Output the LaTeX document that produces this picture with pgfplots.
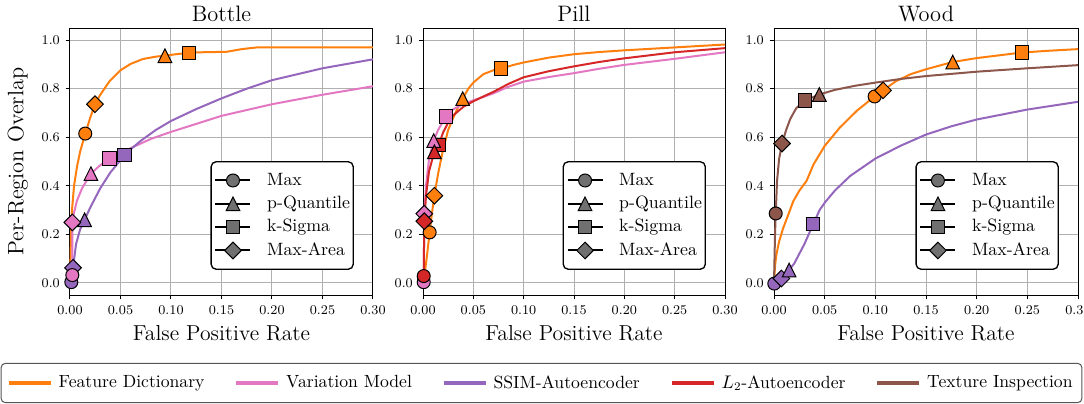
\documentclass[border=0pt]{standalone}
\usepackage{pgfplots}
\pgfplotsset{compat=1.18}
\definecolor{cOrange}{HTML}{FF7F0E}
\definecolor{cPink}{HTML}{E377C2}
\definecolor{cPurple}{HTML}{9467BD}
\definecolor{cRed}{HTML}{D62728}
\definecolor{cBrown}{HTML}{8C564B}
\definecolor{cGrid}{HTML}{B0B0B0}
\definecolor{cLeg}{HTML}{707070}
\definecolor{cEdge}{HTML}{555555}

\pgfdeclareplotmark{mtri}{%
  \pgfpathmoveto{\pgfqpoint{0pt}{\pgfplotmarksize}}%
  \pgfpathlineto{\pgfqpoint{-\pgfplotmarksize}{-\pgfplotmarksize}}%
  \pgfpathlineto{\pgfqpoint{\pgfplotmarksize}{-\pgfplotmarksize}}%
  \pgfpathclose\pgfusepathqfillstroke}
\pgfdeclareplotmark{mdia}{%
  \pgfpathmoveto{\pgfqpoint{0pt}{\pgfplotmarksize}}%
  \pgfpathlineto{\pgfqpoint{\pgfplotmarksize}{0pt}}%
  \pgfpathlineto{\pgfqpoint{0pt}{-\pgfplotmarksize}}%
  \pgfpathlineto{\pgfqpoint{-\pgfplotmarksize}{0pt}}%
  \pgfpathclose\pgfusepathqfillstroke}

\pgfplotsset{
  prc/.style={
    scale only axis, height=160.2pt,
    xmin=0, xmax=0.3, ymin=-0.05, ymax=1.05,
    xtick={0,0.05,0.1,0.15,0.2,0.25,0.3},
    ytick={0,0.2,0.4,0.6,0.8,1.0},
    scaled x ticks=false, scaled y ticks=false,
    xticklabel style={/pgf/number format/.cd, fixed, fixed zerofill, precision=2, /tikz/.cd, yshift=-0.5pt},
    yticklabel style={/pgf/number format/.cd, fixed, fixed zerofill, precision=1},
    tick label style={font=\fontsize{8}{9}\selectfont},
    tick align=outside, tick pos=left,
    major tick length=2.6pt,
    every tick/.style={black, line width=0.6pt},
    grid=major, major grid style={cGrid, line width=0.6pt},
    axis line style={black, line width=0.6pt},
    clip=false,
    every axis title shift=0pt,
    title style={font=\fontsize{13.4}{15}\selectfont, at={(axis description cs:0.5,1.026)}, anchor=base, yshift=0pt},
    xlabel style={font=\fontsize{13}{15}\selectfont, at={(axis description cs:0.5,-0.172)}, anchor=base},
    ylabel style={font=\fontsize{13.4}{15}\selectfont, at={(axis description cs:-0.172,0.5)}, anchor=center},
    legend style={at={(axis description cs:0.937,0.094)}, anchor=south east,
      draw=black, line width=0.8pt, rounded corners=3pt, fill=white,
      font=\fontsize{10.7}{12}\selectfont, inner xsep=2pt, inner ysep=5.5pt, row sep=2.5pt,
      /tikz/every odd column/.append style={column sep=9.4pt},
      nodes={inner sep=0pt, text height=8.5pt, text depth=3pt}},
    legend cell align=left,
    legend image code/.code={\draw[sharp corners, mark repeat=2, mark phase=2, #1] plot coordinates {(0pt,0pt) (10.5pt,0pt) (21pt,0pt)};},
  },
  cv/.style={#1, line width=1.2pt, no markers, forget plot, line join=round},
  mbase/.style={only marks, forget plot, mark options={draw=black, line width=0.6pt, fill=#1, sharp corners, solid}},
  mc/.style={mbase=#1, mark=*, mark size=3.9pt},
  mt/.style={mbase=#1, mark=mtri, mark size=4.1pt},
  ms/.style={mbase=#1, mark=square*, mark size=4pt},
  md/.style={mbase=#1, mark=mdia, mark size=5pt},
  legc/.style={black, line width=1.2pt, mark=*, mark size=3.9pt, mark options={fill=cLeg, draw=black, line width=0.6pt}},
  legt/.style={black, line width=1.2pt, mark=mtri, mark size=4.1pt, mark options={fill=cLeg, draw=black, line width=0.6pt}},
  legs/.style={black, line width=1.2pt, mark=square*, mark size=4pt, mark options={fill=cLeg, draw=black, line width=0.6pt}},
  legd/.style={black, line width=1.2pt, mark=mdia, mark size=5pt, mark options={fill=cLeg, draw=black, line width=0.6pt}},
}

\newcommand{\markerlegend}{%
  \addlegendimage{legc}\addlegendentry{Max}
  \addlegendimage{legt}\addlegendentry{p-Quantile}
  \addlegendimage{legs}\addlegendentry{k-Sigma}
  \addlegendimage{legd}\addlegendentry{Max-Area}
}

\begin{document}
\begin{tikzpicture}
\path[use as bounding box] (0,0) rectangle (650.4pt,241.8pt);

% ---------------- Bottle ----------------
\begin{axis}[prc, width=181.8pt, at={(42pt,64.8pt)}, anchor=south west,
  title={Bottle}, xlabel={False Positive Rate}, ylabel={Per-Region Overlap}]
\addplot[cv=cOrange] coordinates {(0,0) (0.0005,0.1) (0.001,0.2) (0.002,0.3) (0.004,0.4) (0.007,0.48) (0.01,0.54) (0.0151,0.615) (0.02,0.68) (0.0247,0.736) (0.03,0.775) (0.039,0.83) (0.05,0.876) (0.06,0.902) (0.072,0.922) (0.085,0.932) (0.094,0.936) (0.105,0.942) (0.118,0.948) (0.13,0.95) (0.155,0.952) (0.162,0.957) (0.17,0.963) (0.185,0.97) (0.3,0.97)};
\addplot[cv=cPink] coordinates {(0,0) (0.0023,0.032) (0.0023,0.1) (0.0023,0.249) (0.004,0.29) (0.007,0.34) (0.012,0.39) (0.0207,0.45) (0.03,0.485) (0.0391,0.512) (0.05,0.535) (0.06,0.555) (0.08,0.593) (0.1,0.622) (0.125,0.655) (0.15,0.688) (0.175,0.712) (0.2,0.736) (0.25,0.775) (0.3,0.81)};
\addplot[cv=cPurple] coordinates {(0,0) (0.0013,0.003) (0.003,0.062) (0.006,0.16) (0.01,0.22) (0.0145,0.26) (0.02,0.31) (0.03,0.39) (0.04,0.455) (0.054,0.526) (0.06,0.55) (0.07,0.585) (0.085,0.63) (0.1,0.667) (0.125,0.716) (0.15,0.76) (0.175,0.8) (0.2,0.835) (0.25,0.884) (0.3,0.921)};
\addplot[mc=cOrange] coordinates {(0.0151,0.615)};
\addplot[mt=cOrange] coordinates {(0.094,0.936)};
\addplot[ms=cOrange] coordinates {(0.118,0.948)};
\addplot[md=cOrange] coordinates {(0.0247,0.736)};
\addplot[mc=cPurple] coordinates {(0.0013,0.003)};
\addplot[mt=cPurple] coordinates {(0.0145,0.26)};
\addplot[ms=cPurple] coordinates {(0.054,0.526)};
\addplot[md=cPurple] coordinates {(0.003,0.062)};
\addplot[mc=cPink] coordinates {(0.0023,0.032)};
\addplot[mt=cPink] coordinates {(0.0207,0.45)};
\addplot[ms=cPink] coordinates {(0.0391,0.512)};
\addplot[md=cPink] coordinates {(0.0023,0.249)};
\markerlegend
\end{axis}

% ---------------- Pill ----------------
\begin{axis}[prc, width=181.2pt, at={(253.8pt,64.8pt)}, anchor=south west,
  title={Pill}, xlabel={False Positive Rate}]
\addplot[cv=cOrange] coordinates {(0,0) (0.001,0.02) (0.003,0.08) (0.005,0.15) (0.0066,0.208) (0.009,0.29) (0.0113,0.359) (0.015,0.45) (0.02,0.55) (0.025,0.63) (0.03,0.68) (0.035,0.725) (0.0394,0.759) (0.045,0.8) (0.05,0.825) (0.06,0.86) (0.07,0.876) (0.0775,0.883) (0.09,0.898) (0.1,0.908) (0.125,0.928) (0.15,0.942) (0.175,0.951) (0.2,0.958) (0.25,0.97) (0.3,0.982)};
\addplot[cv=cPink] coordinates {(0.0007,0.003) (0.001,0.15) (0.0013,0.285) (0.003,0.4) (0.006,0.51) (0.0106,0.586) (0.015,0.63) (0.0228,0.686) (0.03,0.715) (0.04,0.737) (0.05,0.752) (0.06,0.766) (0.07,0.781) (0.085,0.808) (0.1,0.829) (0.125,0.848) (0.15,0.864) (0.175,0.882) (0.2,0.898) (0.25,0.923) (0.3,0.95)};
\addplot[cv=cRed] coordinates {(0.0007,0.028) (0.001,0.15) (0.0013,0.254) (0.003,0.36) (0.006,0.46) (0.0113,0.54) (0.0156,0.568) (0.02,0.62) (0.025,0.66) (0.03,0.69) (0.04,0.725) (0.05,0.748) (0.06,0.768) (0.07,0.787) (0.085,0.82) (0.1,0.847) (0.125,0.872) (0.15,0.892) (0.175,0.91) (0.2,0.925) (0.25,0.95) (0.3,0.967)};
\addplot[mc=cOrange] coordinates {(0.0066,0.208)};
\addplot[mt=cOrange] coordinates {(0.0394,0.759)};
\addplot[ms=cOrange] coordinates {(0.0775,0.883)};
\addplot[md=cOrange] coordinates {(0.0113,0.359)};
\addplot[mc=cPink] coordinates {(0.0007,0.003)};
\addplot[md=cPink] coordinates {(0.0013,0.285)};
\addplot[mc=cRed] coordinates {(0.0007,0.028)};
\addplot[md=cRed] coordinates {(0.0013,0.254)};
\addplot[ms=cRed] coordinates {(0.0156,0.568)};
\addplot[mt=cPink] coordinates {(0.0106,0.586)};
\addplot[mt=cRed] coordinates {(0.0113,0.54)};
\addplot[ms=cPink] coordinates {(0.0228,0.686)};
\markerlegend
\end{axis}

% ---------------- Wood ----------------
\begin{axis}[prc, width=182.4pt, at={(464.4pt,64.8pt)}, anchor=south west,
  title={Wood}, xlabel={False Positive Rate}]
\addplot[cv=cOrange] coordinates {(0,0) (0.001,0.07) (0.0023,0.115) (0.005,0.17) (0.009,0.225) (0.014,0.28) (0.019,0.336) (0.025,0.38) (0.032,0.419) (0.039,0.488) (0.05,0.564) (0.065,0.64) (0.082,0.71) (0.0993,0.768) (0.1076,0.793) (0.12,0.83) (0.135,0.86) (0.15,0.88) (0.1764,0.91) (0.2,0.926) (0.2446,0.949) (0.27,0.956) (0.3,0.963)};
\addplot[cv=cPurple] coordinates {(0,0) (0.0073,0.018) (0.0149,0.053) (0.02,0.08) (0.025,0.12) (0.03,0.16) (0.0387,0.242) (0.045,0.3) (0.05,0.33) (0.06,0.38) (0.075,0.44) (0.1,0.512) (0.125,0.565) (0.15,0.611) (0.175,0.645) (0.2,0.673) (0.25,0.714) (0.3,0.746)};
\addplot[cv=cBrown] coordinates {(0,0) (0.0005,0.1) (0.001,0.2) (0.0017,0.286) (0.003,0.42) (0.005,0.51) (0.0079,0.574) (0.012,0.63) (0.016,0.675) (0.022,0.72) (0.0305,0.751) (0.0447,0.776) (0.06,0.795) (0.08,0.812) (0.1,0.825) (0.125,0.84) (0.15,0.852) (0.2,0.87) (0.25,0.884) (0.3,0.897)};
\addplot[mc=cOrange] coordinates {(0.0993,0.768)};
\addplot[mt=cOrange] coordinates {(0.1764,0.91)};
\addplot[ms=cOrange] coordinates {(0.2446,0.949)};
\addplot[md=cOrange] coordinates {(0.1076,0.793)};
\addplot[mc=cPurple] coordinates {(0.0003,-0.003)};
\addplot[md=cPurple] coordinates {(0.0073,0.018)};
\addplot[mt=cPurple] coordinates {(0.0149,0.053)};
\addplot[ms=cPurple] coordinates {(0.0387,0.242)};
\addplot[mc=cBrown] coordinates {(0.0017,0.286)};
\addplot[mt=cBrown] coordinates {(0.0447,0.776)};
\addplot[ms=cBrown] coordinates {(0.0305,0.751)};
\addplot[md=cBrown] coordinates {(0.0079,0.574)};
\markerlegend
\end{axis}

% ---------------- Bottom legend ----------------
\begin{axis}[hide axis, scale only axis, width=648.6pt, height=22.8pt,
  at={(0.6pt,0.6pt)}, anchor=south west, xmin=0, xmax=1, ymin=0, ymax=1,
  legend columns=5,
  legend style={at={(axis description cs:0.5,0.5)}, anchor=center,
    draw=cEdge, line width=0.6pt, rounded corners=2.4pt, fill=white,
    font=\fontsize{10.6}{12}\selectfont, inner xsep=3.5pt, inner ysep=5.2pt,
    /tikz/every odd column/.append style={column sep=1.8pt},
    /tikz/every even column/.append style={column sep=16pt}},
  legend image code/.code={\draw[sharp corners, #1] (0pt,0pt) -- (25.2pt,0pt);}]
\addlegendimage{cOrange, line width=2pt}\addlegendentry{Feature Dictionary}
\addlegendimage{cPink, line width=2pt}\addlegendentry{Variation Model}
\addlegendimage{cPurple, line width=2pt}\addlegendentry{SSIM-Autoencoder}
\addlegendimage{cRed, line width=2pt}\addlegendentry{$L_2$-Autoencoder}
\addlegendimage{cBrown, line width=2pt}\addlegendentry{Texture Inspection}
\end{axis}
\end{tikzpicture}
\end{document}
